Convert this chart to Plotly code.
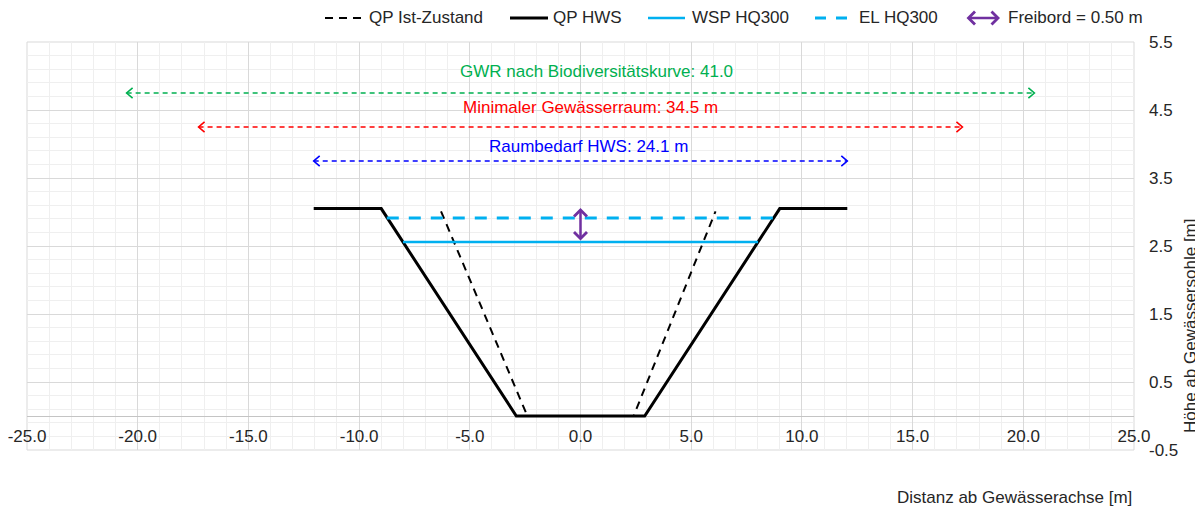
import plotly.graph_objects as go

# ---------------- data ----------------
hws_x = [-12.05, -9.0, -2.9, 2.9, 9.0, 12.05]
hws_y = [3.05, 3.05, 0.0, 0.0, 3.05, 3.05]

ist_x = [-6.3, -2.4, 2.4, 6.1]
ist_y = [3.01, 0.0, 0.0, 3.01]

wsp_x = [-8.02, 8.02]
wsp_y = [2.56, 2.56]

el_x = [-8.75, 8.75]
el_y = [2.91, 2.91]

freibord = 0.50
freibord_x = 0.0

dim_labels = ["GWR nach Biodiversitätskurve: 41.0",
              "Minimaler Gewässerraum: 34.5 m",
              "Raumbedarf HWS: 24.1 m"]
dim_widths = [41.0, 34.5, 24.1]
dim_levels = [4.75, 4.25, 3.75]
dim_text_x = [0.7, 0.43, 0.34]
dim_text_y = [5.06, 4.53, 3.97]
dim_colors = ["#00b050", "#ff0000", "#0000ff"]

legend_names = ["QP Ist-Zustand", "QP HWS", "WSP HQ300", "EL HQ300", "Freibord = 0.50 m"]

x_tick_vals = [-25, -20, -15, -10, -5, 0, 5, 10, 15, 20, 25]
x_tick_text = ["-25.0", "-20.0", "-15.0", "-10.0", "-5.0", "0.0", "5.0", "10.0", "15.0", "20.0", "25.0"]
y_tick_vals = [-0.5, 0.5, 1.5, 2.5, 3.5, 4.5, 5.5]
y_tick_text = ["-0.5", "0.5", "1.5", "2.5", "3.5", "4.5", "5.5"]

x_range = [-25, 25]
y_range = [-0.5, 5.5]

# ---------------- layout helpers ----------------
# The page body has an 8px default margin; the figure is sized so that it
# ends exactly at the window edges.
OFF = 8
W, H = 1203 - OFF, 507 - OFF
PLOT_L, PLOT_R, PLOT_T, PLOT_B = 27, 1134, 42, 450   # page pixels of plot area
ML = PLOT_L - OFF
MT = PLOT_T - OFF
PW = PLOT_R - PLOT_L
PH = PLOT_B - PLOT_T
MR = W - ML - PW
MB = H - MT - PH
FONT = "Liberation Sans, Arial, sans-serif"
TXT = "#262626"


def px(xpage):
    return (xpage - PLOT_L) / PW


def py(ypage):
    return (PLOT_B - ypage) / PH


BLACK = "#000000"
CYAN = "#00b0f0"
PURPLE = "#7030a0"

fig = go.Figure()

# dimension arrows
chev_dx, chev_dy = 0.27, 0.075
for lab, w, lvl, col in zip(dim_labels, dim_widths, dim_levels, dim_colors):
    half = w / 2
    fig.add_trace(go.Scatter(x=[-half, half], y=[lvl, lvl], mode="lines",
                             line=dict(color=col, width=1.5, dash="5px,4px"),
                             showlegend=False, hoverinfo="skip"))
    fig.add_trace(go.Scatter(
        x=[-half + chev_dx, -half, -half + chev_dx, None, half - chev_dx, half, half - chev_dx],
        y=[lvl + chev_dy, lvl, lvl - chev_dy, None, lvl + chev_dy, lvl, lvl - chev_dy],
        mode="lines", line=dict(color=col, width=1.6),
        showlegend=False, hoverinfo="skip"))

for lab, tx, ty, col in zip(dim_labels, dim_text_x, dim_text_y, dim_colors):
    fig.add_annotation(x=tx, y=ty, xref="x", yref="y", text=lab, showarrow=False,
                       font=dict(family=FONT, size=17, color=col),
                       xanchor="center", yanchor="middle")

# profiles
fig.add_trace(go.Scatter(x=ist_x, y=ist_y, mode="lines", name=legend_names[0],
                         line=dict(color=BLACK, width=2, dash="8px,6px"),
                         showlegend=False, hoverinfo="skip"))
fig.add_trace(go.Scatter(x=hws_x, y=hws_y, mode="lines", name=legend_names[1],
                         line=dict(color=BLACK, width=3),
                         showlegend=False, hoverinfo="skip"))
fig.add_trace(go.Scatter(x=wsp_x, y=wsp_y, mode="lines", name=legend_names[2],
                         line=dict(color=CYAN, width=2.5),
                         showlegend=False, hoverinfo="skip"))
fig.add_trace(go.Scatter(x=el_x, y=el_y, mode="lines", name=legend_names[3],
                         line=dict(color=CYAN, width=3, dash="12px,10px"),
                         showlegend=False, hoverinfo="skip"))

# freibord arrow
fig.add_annotation(x=freibord_x, y=wsp_y[0] + freibord, ax=freibord_x, ay=wsp_y[0],
                   xref="x", yref="y", axref="x", ayref="y", text="",
                   showarrow=True, arrowhead=4, startarrowhead=4, arrowside="end+start",
                   arrowwidth=2.5, arrowsize=1, arrowcolor=PURPLE, standoff=0, startstandoff=0)

# ---------------- manual legend ----------------
ly = py(18)
legend_syms = [
    (325, 363, BLACK, 2, "8px,6px"),
    (510, 548, BLACK, 3, "solid"),
    (648, 685, CYAN, 2.5, "solid"),
    (815, 847, CYAN, 3, "11px,10px"),
]
legend_text_x = [367, 551, 690, 857, 1006]
for (x0, x1, col, lw, dash) in legend_syms:
    fig.add_shape(type="line", xref="paper", yref="paper", x0=px(x0), x1=px(x1), y0=ly, y1=ly,
                  line=dict(color=col, width=lw, dash=dash))
fig.add_annotation(x=px(1000), y=ly, xref="paper", yref="paper", ax=-35, ay=0, text="",
                   showarrow=True, arrowhead=4, startarrowhead=4, arrowside="end+start",
                   arrowwidth=2.5, arrowsize=1, arrowcolor=PURPLE, standoff=0, startstandoff=0)
for name, tx in zip(legend_names, legend_text_x):
    fig.add_annotation(x=px(tx), y=ly, xref="paper", yref="paper", text=name, showarrow=False,
                       xanchor="left", yanchor="middle", font=dict(family=FONT, size=17, color=TXT))

# axis titles
fig.add_annotation(x=px(1134), y=py(497), xref="paper", yref="paper",
                   text="Distanz ab Gewässerachse [m]", showarrow=False,
                   xanchor="right", yanchor="middle", font=dict(family=FONT, size=17, color=TXT))
fig.add_annotation(x=px(1190), y=py(326), xref="paper", yref="paper",
                   text="Höhe ab Gewässersohle [m]", showarrow=False, textangle=-90,
                   xanchor="center", yanchor="middle", font=dict(family=FONT, size=17, color=TXT))

# frame
fig.add_shape(type="rect", xref="paper", yref="paper", x0=0, x1=1, y0=0, y1=1,
              line=dict(color="#d9d9d9", width=1), layer="below")

fig.update_layout(
    width=W, height=H,
    margin=dict(l=ML, r=MR, t=MT, b=MB, pad=0, autoexpand=False),
    paper_bgcolor="white", plot_bgcolor="white",
    showlegend=False, hovermode=False,
    font=dict(family=FONT, size=17, color=TXT),
    xaxis=dict(range=x_range, tickmode="array", tickvals=x_tick_vals, ticktext=x_tick_text,
               showgrid=True, gridcolor="#d9d9d9", gridwidth=1,
               minor=dict(dtick=1, tick0=-25, showgrid=True, gridcolor="#efefef", gridwidth=1),
               zeroline=False, showline=False, ticks="", automargin=False,
               anchor="free", position=(0 - y_range[0]) / (y_range[1] - y_range[0]),
               ticklabelstandoff=8, ticklabeloverflow="allow",
               tickfont=dict(family=FONT, size=17, color=TXT)),
    yaxis=dict(range=y_range, tickmode="array", tickvals=y_tick_vals, ticktext=y_tick_text,
               side="right", automargin=False,
               showgrid=True, gridcolor="#d9d9d9", gridwidth=1,
               minor=dict(dtick=0.2, tick0=-0.5, showgrid=True, gridcolor="#efefef", gridwidth=1),
               zeroline=True, zerolinecolor="#c4c4c4", zerolinewidth=1,
               showline=False, ticks="", ticklabelstandoff=14, ticklabeloverflow="allow",
               tickfont=dict(family=FONT, size=17, color=TXT)),
)

fig.write_html("out.html")
